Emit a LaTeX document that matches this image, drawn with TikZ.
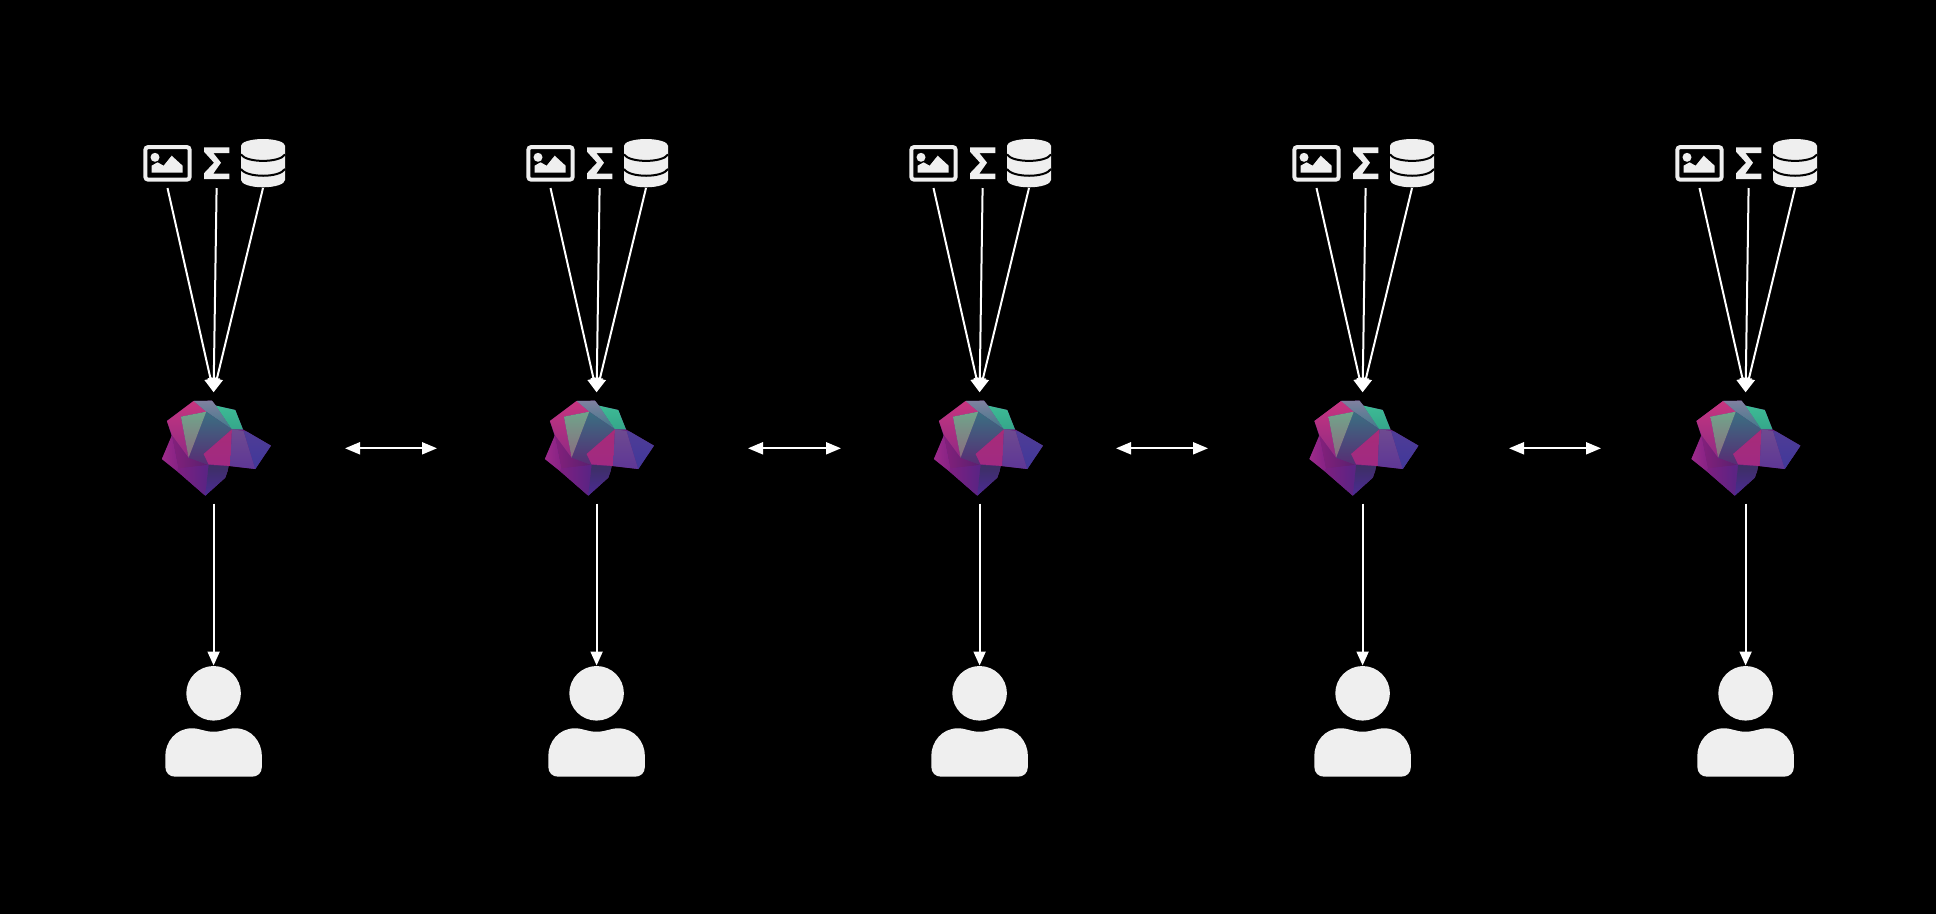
\documentclass[tikz,border=0pt]{standalone}
\usetikzlibrary{arrows.meta}
\definecolor{iconcol}{HTML}{EFEFEF}
\definecolor{lgbase}{HTML}{6A2480}
\definecolor{lgpinka}{HTML}{C8357F}
\definecolor{lgpinkb}{HTML}{8F2A84}
\definecolor{lggreya}{HTML}{6FA58A}
\definecolor{lggreyb}{HTML}{8A6A80}
\definecolor{lgtopa}{HTML}{8080A0}
\definecolor{lgtopb}{HTML}{3F7A8A}
\definecolor{lgmida}{HTML}{3A7082}
\definecolor{lgmidb}{HTML}{582C74}
\definecolor{lggreena}{HTML}{3DBB95}
\definecolor{lggreenb}{HTML}{35A68A}
\definecolor{lgmaga}{HTML}{A82C78}
\definecolor{lgmagb}{HTML}{A02A82}
\definecolor{lgpura}{HTML}{6E4A90}
\definecolor{lgpurb}{HTML}{5E3696}
\definecolor{lgblua}{HTML}{4F3C96}
\definecolor{lgblub}{HTML}{40389A}
\definecolor{lgleft}{HTML}{9E2A8A}
\definecolor{lgleftb}{HTML}{842284}
\definecolor{lginner}{HTML}{84207C}
\definecolor{lginnerb}{HTML}{58206E}
\definecolor{lglowa}{HTML}{7E1F80}
\definecolor{lglowb}{HTML}{582484}
\definecolor{lgdarka}{HTML}{3C2F64}
\definecolor{lgdarkb}{HTML}{4C2A94}
\tikzset{
  iconbox/.style={inner sep=0pt, minimum width=#1, minimum height=43pt, anchor=south},
  wire/.style={draw=white, line width=2pt, -{Triangle[length=14pt,width=12pt]}},
  link/.style={draw=white, line width=2pt, {Triangle[length=15pt,width=12pt]}-{Triangle[length=15pt,width=12pt]}},
  pics/logoart/.style={code={
    \fill[lgbase] (130,48) -- (185,47) -- (197,62) -- (255,75) -- (278,133) -- (290,140) -- (362,182) -- (315,252) -- (235,243) -- (232,258) -- (225,278) -- (165,332) -- (80,258) -- (35,222) -- (65,155) -- (50,108) -- cycle;
    \shade[left color=lgleft, right color=lgleftb] (65,150) -- (85,250) -- (80,258) -- (35,222) -- cycle;
    \shade[left color=lginner, right color=lginnerb] (65,150) -- (115,218) -- (175,240) -- (85,250) -- cycle;
    \shade[left color=lglowa, right color=lglowb] (80,258) -- (85,250) -- (175,240) -- (165,332) -- cycle;
    \shade[top color=lgdarka, bottom color=lgdarkb] (175,240) -- (235,243) -- (232,258) -- (225,278) -- (165,332) -- cycle;
    \shade[top color=lgpinka, bottom color=lgpinkb] (50,108) -- (130,48) -- (168,80) -- (92,95) -- (115,218) -- (65,150) -- cycle;
    \shade[top color=lgtopa, bottom color=lgtopb] (130,48) -- (185,47) -- (197,62) -- (245,133) -- (168,80) -- cycle;
    \shade[top color=lgmida, bottom color=lgmidb] (168,80) -- (245,133) -- (160,207) -- (175,240) -- (115,218) -- cycle;
    \shade[top color=lggreya, bottom color=lggreyb] (92,95) -- (168,80) -- (115,218) -- cycle;
    \shade[top color=lggreena, bottom color=lggreenb] (197,62) -- (255,75) -- (278,133) -- (245,133) -- cycle;
    \shade[top color=lgmaga, bottom color=lgmagb] (245,133) -- (240,243) -- (175,238) -- (160,207) -- cycle;
    \shade[top color=lgpura, bottom color=lgpurb] (245,133) -- (280,138) -- (315,252) -- (240,243) -- cycle;
    \shade[top color=lgblua, bottom color=lgblub] (280,138) -- (290,140) -- (362,182) -- (315,252) -- cycle;
  }},
  pics/imageicon/.style={code={
    \draw[iconcol, line width=4pt, rounded corners=3pt] (-68.3,147) rectangle (-23.9,179.7);
    \fill[iconcol] (-58.6,157.3) circle (4.5);
    \fill[iconcol] (-62,172.7) -- (-62,165.7) -- (-56,162.3) -- (-50,165.7) -- (-41.9,155.7) -- (-31,165.7) -- (-31,172.7) -- cycle;
  }},
  pics/sigmaicon/.style={code={
    \fill[iconcol] (-9.6,147.3) -- (15.7,147.3) -- (15.7,153) -- (-0.3,153) -- (7.4,162.7) -- (-0.3,173.6) -- (15.7,173.6) -- (15.7,179) -- (-9.6,179) -- (-9.6,173.3) -- (0.4,162.7) -- (-9.6,151.7) -- cycle;
  }},
  pics/dbicon/.style={code={
    \fill[iconcol] (27.4,145.7) arc[x radius=22, y radius=6.7, start angle=180, end angle=360] -- (71.4,180) arc[x radius=22, y radius=7.3, start angle=0, end angle=180] -- cycle;
    \draw[black, line width=2pt] (27.4,154.5) .. controls (33,163) and (66,163) .. (71.4,154.5);
    \draw[black, line width=2pt] (27.4,169) .. controls (33,178) and (66,178) .. (71.4,169);
  }},
  pics/usericon/.style={code={
    \fill[iconcol] (0,693.3) circle (27.3);
    \fill[iconcol] (-21.7,728.3) .. controls (-13,728.3) and (-10,731.7) .. (0,731.7) .. controls (10,731.7) and (13,728.3) .. (21.7,728.3) .. controls (38,728.3) and (48.3,742) .. (48.3,756) -- (48.3,766.7) .. controls (48.3,773) and (44,776.7) .. (38.3,776.7) -- (-38.3,776.7) .. controls (-44,776.7) and (-48.3,773) .. (-48.3,766.7) -- (-48.3,756) .. controls (-48.3,742) and (-38,728.3) .. (-21.7,728.3) -- cycle;
  }},
}
\begin{document}
\begin{tikzpicture}[x=1pt,y=-1pt]
\useasboundingbox (0,0) rectangle (1936,913.7);
\fill[black] (-5,-5) rectangle (1941,919);
% one column per agent
\foreach \i/\cx/\lx in {1/213.6/0, 2/596.6/0, 3/979.6/6, 4/1362.6/-1.5, 5/1745.6/-2.5} {
  \begin{scope}[shift={(\cx,0)}]
    \pic {imageicon};
    \pic {sigmaicon};
    \pic {dbicon};
    \pic {usericon};
    \pic[scale=0.3333] at ({\lx-63.33},385) {logoart};
    \node[iconbox=48pt] (img\i) at (-46.1,188) {};
    \node[iconbox=25pt] (sigma\i) at (3,188) {};
    \node[iconbox=44pt] (db\i) at (49.4,188) {};
    \node[inner sep=0pt, minimum width=110pt, minimum height=111pt] (logo\i) at (0,448) {};
    \node[inner sep=0pt, minimum width=97pt, minimum height=111pt] (user\i) at (0,721.2) {};
  \end{scope}
  \draw[wire] (img\i.south) -- (logo\i.north);
  \draw[wire] (sigma\i.south) -- (logo\i.north);
  \draw[wire] (db\i.south) -- (logo\i.north);
  \draw[wire] (logo\i.south) -- (user\i.north);
}
% exchange between neighbours
\foreach \j/\xa/\xb in {1/345/437, 2/748/841, 3/1116/1208, 4/1509/1601} {
  \coordinate (gapa\j) at (\xa,448.3);
  \coordinate (gapb\j) at (\xb,448.3);
  \draw[link] (gapa\j) -- (gapb\j);
}
\end{tikzpicture}
\end{document}
